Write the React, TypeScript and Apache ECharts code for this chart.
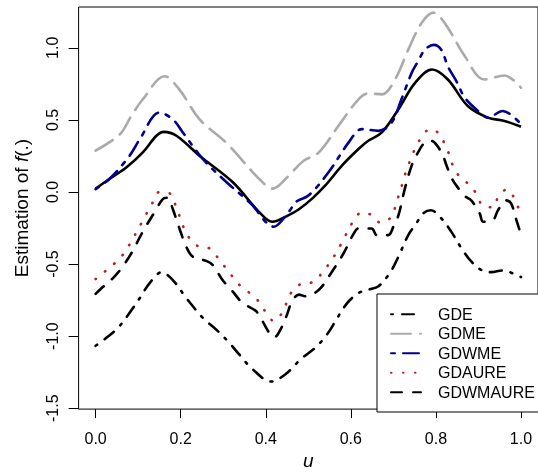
import React, { useEffect, useRef } from "react";
import * as echarts from "echarts";

const xTicks = [0, 0.2, 0.4, 0.6, 0.8, 1.0];
const yTicks = [-1.5, -1.0, -0.5, 0.0, 0.5, 1.0];
const legendNames = ["GDE", "GDME", "GDWME", "GDAURE", "GDWMAURE"];

const trueU = [0, 0.033, 0.072, 0.111, 0.143, 0.16, 0.19, 0.244, 0.322, 0.384, 0.415, 0.454, 0.478, 0.509, 0.54, 0.579, 0.618, 0.641, 0.673, 0.712, 0.751, 0.791, 0.828, 0.875, 0.922, 0.961, 1.0];
const trueV = [0.023, 0.092, 0.17, 0.275, 0.39, 0.417, 0.39, 0.252, 0.069, -0.138, -0.207, -0.161, -0.12, -0.046, 0.045, 0.183, 0.298, 0.355, 0.413, 0.574, 0.757, 0.849, 0.78, 0.596, 0.516, 0.493, 0.452];

const gdeU = [0, 0.026, 0.053, 0.08, 0.104, 0.127, 0.155, 0.181, 0.213, 0.252, 0.283, 0.314, 0.337, 0.369, 0.412, 0.447, 0.482, 0.517, 0.544, 0.564, 0.583, 0.599, 0.618, 0.641, 0.665, 0.692, 0.712, 0.735, 0.754, 0.77, 0.788, 0.813, 0.836, 0.86, 0.883, 0.906, 0.93, 0.957, 0.988, 1.0];
const gdeV = [-1.067, -1.01, -0.941, -0.838, -0.735, -0.632, -0.557, -0.609, -0.735, -0.873, -0.953, -1.045, -1.125, -1.229, -1.315, -1.263, -1.16, -1.079, -0.988, -0.895, -0.804, -0.746, -0.7, -0.678, -0.654, -0.56, -0.448, -0.299, -0.218, -0.149, -0.127, -0.184, -0.275, -0.39, -0.482, -0.54, -0.556, -0.544, -0.574, -0.59];

const gdmeU = [0, 0.057, 0.084, 0.111, 0.162, 0.197, 0.244, 0.306, 0.369, 0.384, 0.415, 0.431, 0.462, 0.49, 0.525, 0.571, 0.618, 0.641, 0.673, 0.704, 0.735, 0.766, 0.794, 0.821, 0.868, 0.914, 0.961, 1.0];
const gdmeV = [0.287, 0.4, 0.528, 0.643, 0.803, 0.71, 0.505, 0.344, 0.138, 0.092, 0.023, 0.045, 0.138, 0.218, 0.275, 0.459, 0.643, 0.684, 0.677, 0.78, 0.987, 1.171, 1.244, 1.171, 0.941, 0.78, 0.808, 0.723];

const gdwmeU = [0, 0.033, 0.08, 0.104, 0.15, 0.181, 0.205, 0.252, 0.306, 0.365, 0.419, 0.454, 0.471, 0.501, 0.548, 0.595, 0.626, 0.665, 0.696, 0.719, 0.743, 0.758, 0.775, 0.795, 0.813, 0.828, 0.848, 0.868, 0.899, 0.922, 0.957, 1.0];
const gdwmeV = [0.02, 0.092, 0.252, 0.367, 0.551, 0.505, 0.413, 0.229, 0.073, -0.081, -0.241, -0.138, -0.069, -0.023, 0.138, 0.344, 0.436, 0.424, 0.482, 0.643, 0.826, 0.906, 0.99, 1.02, 0.985, 0.872, 0.769, 0.654, 0.562, 0.516, 0.562, 0.47];

const gdaureU = [0, 0.022, 0.045, 0.065, 0.08, 0.108, 0.135, 0.15, 0.175, 0.187, 0.197, 0.207, 0.221, 0.24, 0.269, 0.288, 0.305, 0.341, 0.365, 0.385, 0.401, 0.419, 0.437, 0.449, 0.461, 0.483, 0.51, 0.531, 0.548, 0.564, 0.578, 0.591, 0.605, 0.625, 0.65, 0.67, 0.694, 0.705, 0.713, 0.722, 0.73, 0.74, 0.751, 0.766, 0.786, 0.809, 0.821, 0.833, 0.842, 0.859, 0.881, 0.897, 0.911, 0.934, 0.947, 0.967, 0.984, 0.995];
const gdaureV = [-0.604, -0.551, -0.494, -0.432, -0.363, -0.214, -0.069, 0.0, -0.012, -0.085, -0.165, -0.246, -0.322, -0.375, -0.393, -0.459, -0.523, -0.654, -0.707, -0.765, -0.838, -0.895, -0.845, -0.769, -0.693, -0.638, -0.625, -0.567, -0.501, -0.43, -0.356, -0.282, -0.207, -0.143, -0.161, -0.214, -0.177, -0.099, -0.019, 0.064, 0.145, 0.222, 0.3, 0.379, 0.436, 0.401, 0.328, 0.248, 0.167, 0.096, 0.045, -0.023, -0.099, -0.106, -0.032, 0.018, -0.041, -0.12];

const gdwmaureU = [0, 0.01, 0.041, 0.061, 0.084, 0.111, 0.139, 0.158, 0.17, 0.181, 0.197, 0.213, 0.228, 0.26, 0.275, 0.298, 0.322, 0.345, 0.377, 0.392, 0.408, 0.419, 0.439, 0.45, 0.462, 0.478, 0.493, 0.525, 0.556, 0.583, 0.607, 0.618, 0.649, 0.661, 0.688, 0.7, 0.712, 0.727, 0.743, 0.758, 0.774, 0.788, 0.813, 0.825, 0.836, 0.848, 0.868, 0.883, 0.903, 0.911, 0.934, 0.946, 0.965, 0.977, 0.988, 0.996];
const gdwmaureV = [-0.707, -0.678, -0.597, -0.528, -0.425, -0.275, -0.138, -0.05, -0.04, -0.115, -0.253, -0.379, -0.448, -0.478, -0.505, -0.609, -0.689, -0.769, -0.826, -0.895, -0.976, -1.01, -0.93, -0.85, -0.758, -0.712, -0.723, -0.678, -0.551, -0.425, -0.287, -0.253, -0.253, -0.299, -0.299, -0.241, -0.161, 0.023, 0.183, 0.275, 0.344, 0.355, 0.275, 0.183, 0.103, 0.045, -0.028, -0.058, -0.149, -0.207, -0.195, -0.127, -0.058, -0.081, -0.184, -0.258];

const FONT = "'Liberation Sans', Arial, Helvetica, sans-serif";

function pairs(u: number[], v: number[]) {
  return u.map((x, i) => [x, v[i]]);
}

export default function App() {
  const ref = useRef<HTMLDivElement>(null);
  useEffect(() => {
    if (!ref.current) return;
    const chart = echarts.init(ref.current, undefined, { renderer: "svg" });
    const lw = 2.6;
    const mk = (name: string, u: number[], v: number[], color: string, type: any) => ({
      name,
      type: "line",
      data: pairs(u, v),
      showSymbol: false,
      symbol: "none",
      smooth: 0.35,
      lineStyle: { color, width: lw, type, cap: "round", join: "round" },
      itemStyle: { color },
      z: 2,
    });
    chart.setOption({
      animation: false,
      grid: {
        left: 78.6,
        top: 7,
        right: -2.4,
        bottom: 63,
        show: true,
        borderColor: "#000",
        borderWidth: 1,
        backgroundColor: "transparent",
      },
      xAxis: {
        type: "value",
        min: -0.04,
        max: 1.04,
        name: "u",
        nameLocation: "middle",
        nameGap: 41,
        nameTextStyle: { fontSize: 19, fontStyle: "italic", fontFamily: FONT, color: "#000" },
        axisLine: { show: false, onZero: false },
        splitLine: { show: false },
        axisTick: { show: true, length: 9, inside: false, customValues: xTicks, lineStyle: { color: "#000" } },
        axisLabel: {
          customValues: xTicks,
          formatter: (v: number) => v.toFixed(1),
          fontSize: 16,
          fontFamily: FONT,
          color: "#000",
          margin: 21,
        },
      },
      yAxis: {
        type: "value",
        min: -1.506,
        max: 1.283,
        name: "Estimation of {i|f}(.)",
        nameLocation: "middle",
        nameRotate: 90,
        nameGap: 48,
        nameTextStyle: {
          fontSize: 19,
          fontFamily: FONT,
          color: "#000",
          rich: { i: { fontSize: 19, fontStyle: "italic", fontFamily: FONT, color: "#000" } },
        },
        axisLine: { show: false, onZero: false },
        splitLine: { show: false },
        axisTick: { show: true, length: 10, inside: false, customValues: yTicks, lineStyle: { color: "#000" } },
        axisLabel: {
          customValues: yTicks,
          formatter: (v: number) => v.toFixed(1),
          rotate: 90,
          fontSize: 16,
          fontFamily: FONT,
          color: "#000",
          margin: 18,
        },
      },
      legend: {
        orient: "vertical",
        left: 390,
        top: 306.3,
        padding: 0,
        itemWidth: 30,
        itemHeight: 14,
        itemGap: 3.5,
        selectedMode: false,
        data: legendNames,
        itemStyle: { opacity: 0 },
        textStyle: { fontSize: 16, fontFamily: FONT, color: "#000", padding: [0, 0, 0, 12] },
        z: 10,
      },
      graphic: [
        {
          type: "rect",
          z: 5,
          shape: { x: 377, y: 294, width: 200, height: 118 },
          style: { fill: "#fff", stroke: "#000", lineWidth: 1 },
        },
      ],
      series: [
        {
          name: "True",
          type: "line",
          data: pairs(trueU, trueV),
          showSymbol: false,
          symbol: "none",
          smooth: 0.35,
          lineStyle: { color: "#000", width: lw, type: "solid" },
          z: 2,
        },
        mk("GDE", gdeU, gdeV, "#000000", [2, 9, 12, 9]),
        mk("GDME", gdmeU, gdmeV, "#AAAAAA", [20, 9]),
        mk("GDWME", gdwmeU, gdwmeV, "#00008B", [4, 8, 16, 8]),
        mk("GDAURE", gdaureU, gdaureV, "#B22222", [0.5, 11.5]),
        mk("GDWMAURE", gdwmaureU, gdwmaureV, "#000000", [11, 11]),
      ],
    });
    return () => chart.dispose();
  }, []);
  return (
    <div
      ref={ref}
      style={{ position: "fixed", left: 0, top: 0, width: 538, height: 475 }}
    />
  );
}
